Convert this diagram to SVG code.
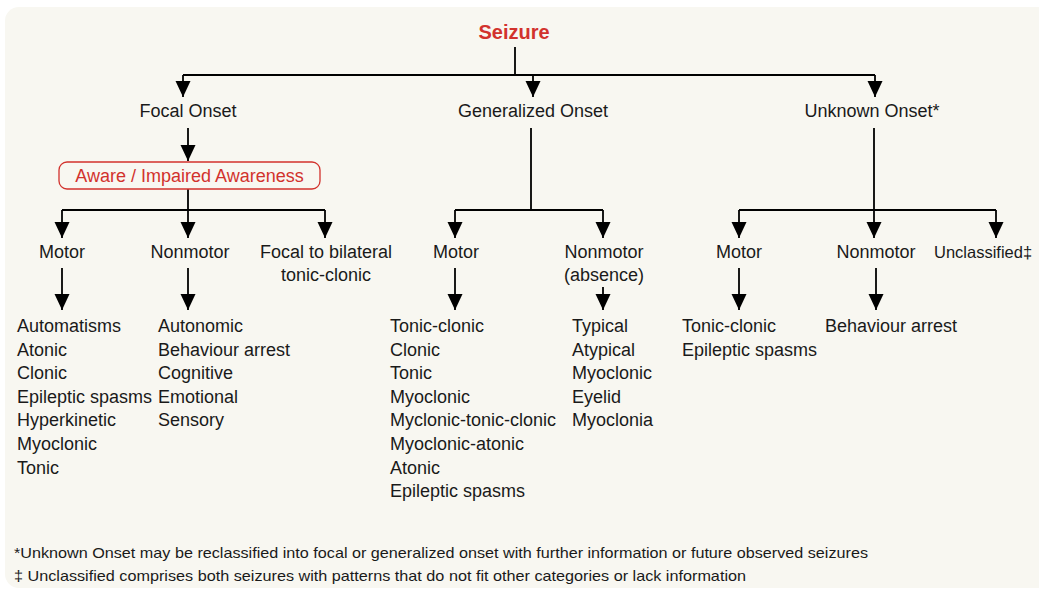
<svg xmlns="http://www.w3.org/2000/svg" width="1039" height="591" viewBox="0 0 1039 591">
<style>
.t{font-family:"Liberation Sans",Arial,sans-serif;font-size:18px;fill:#1a1a1a}
.c{text-anchor:middle}
.red{fill:#d2322d}
.ln{stroke:#000;stroke-width:1.8;fill:none}
.fn{font-family:"Liberation Sans",Arial,sans-serif;font-size:15px;fill:#1a1a1a}
</style>
<defs>
<marker id="ah" markerUnits="userSpaceOnUse" markerWidth="16" markerHeight="17" refX="16" refY="7.5" orient="auto">
<path d="M0,0 L16,7.5 L0,15 z" fill="#000"/>
</marker>
</defs>
<rect x="5" y="7" width="1050" height="581" rx="14" fill="#f8f7f1"/>
<g id="connectors">
<path class="ln" d="M515,47 V75 M183,75 H875"/>
<path class="ln" d="M183,75 V97" marker-end="url(#ah)"/>
<path class="ln" d="M533,75 V97" marker-end="url(#ah)"/>
<path class="ln" d="M875,75 V97" marker-end="url(#ah)"/>
<path class="ln" d="M188,128 V161" marker-end="url(#ah)"/>
<path class="ln" d="M188,189 V210 M62,210 H325"/>
<path class="ln" d="M62,210 V238" marker-end="url(#ah)"/>
<path class="ln" d="M188,210 V238" marker-end="url(#ah)"/>
<path class="ln" d="M325,210 V238" marker-end="url(#ah)"/>
<path class="ln" d="M531,128 V210 M455,210 H603"/>
<path class="ln" d="M455,210 V238" marker-end="url(#ah)"/>
<path class="ln" d="M603,210 V238" marker-end="url(#ah)"/>
<path class="ln" d="M874,128 V210 M739,210 H996"/>
<path class="ln" d="M739,210 V238" marker-end="url(#ah)"/>
<path class="ln" d="M874,210 V238" marker-end="url(#ah)"/>
<path class="ln" d="M996,210 V238" marker-end="url(#ah)"/>
<path class="ln" d="M62,268 V310" marker-end="url(#ah)"/>
<path class="ln" d="M188,268 V310" marker-end="url(#ah)"/>
<path class="ln" d="M455,268 V310" marker-end="url(#ah)"/>
<path class="ln" d="M603,287 V310" marker-end="url(#ah)"/>
<path class="ln" d="M739,268 V310" marker-end="url(#ah)"/>
<path class="ln" d="M876,268 V310" marker-end="url(#ah)"/>
</g>
<g id="seizure"><text class="t c red" x="514" y="39" style="font-weight:bold;font-size:20px">Seizure</text></g>
<g id="focal"><text class="t c" x="188" y="117">Focal Onset</text></g>
<g id="generalized"><text class="t c" x="533" y="117">Generalized Onset</text></g>
<g id="unknown"><text class="t c" x="872" y="117">Unknown Onset*</text></g>
<g id="aware">
<rect x="59" y="162" width="261" height="27" rx="8" fill="none" stroke="#d2322d" stroke-width="1.3"/>
<text class="t c red" x="189.5" y="182">Aware / Impaired Awareness</text>
</g>
<g id="focal-motor"><text class="t c" x="62" y="258">Motor</text></g>
<g id="focal-nonmotor"><text class="t c" x="190" y="258">Nonmotor</text></g>
<g id="focal-bilateral"><text class="t c" x="326" y="258">Focal to bilateral</text><text class="t c" x="326" y="281">tonic-clonic</text></g>
<g id="gen-motor"><text class="t c" x="456" y="258">Motor</text></g>
<g id="gen-nonmotor"><text class="t c" x="604" y="258">Nonmotor</text><text class="t c" x="604" y="281">(absence)</text></g>
<g id="unk-motor"><text class="t c" x="739" y="258">Motor</text></g>
<g id="unk-nonmotor"><text class="t c" x="876" y="258">Nonmotor</text></g>
<g id="unk-unclassified"><text class="t" x="934" y="258" style="font-size:16.5px">Unclassified‡</text></g>
<g id="focal-motor-list">
<text class="t" x="17" y="332">Automatisms</text>
<text class="t" x="17" y="355.6">Atonic</text>
<text class="t" x="17" y="379.2">Clonic</text>
<text class="t" x="17" y="402.8">Epileptic spasms</text>
<text class="t" x="17" y="426.4">Hyperkinetic</text>
<text class="t" x="17" y="450">Myoclonic</text>
<text class="t" x="17" y="473.6">Tonic</text>
</g>
<g id="focal-nonmotor-list">
<text class="t" x="158" y="332">Autonomic</text>
<text class="t" x="158" y="355.6">Behaviour arrest</text>
<text class="t" x="158" y="379.2">Cognitive</text>
<text class="t" x="158" y="402.8">Emotional</text>
<text class="t" x="158" y="426.4">Sensory</text>
</g>
<g id="gen-motor-list">
<text class="t" x="390" y="332">Tonic-clonic</text>
<text class="t" x="390" y="355.6">Clonic</text>
<text class="t" x="390" y="379.2">Tonic</text>
<text class="t" x="390" y="402.8">Myoclonic</text>
<text class="t" x="390" y="426.4">Myclonic-tonic-clonic</text>
<text class="t" x="390" y="450">Myoclonic-atonic</text>
<text class="t" x="390" y="473.6">Atonic</text>
<text class="t" x="390" y="497.2">Epileptic spasms</text>
</g>
<g id="gen-nonmotor-list">
<text class="t" x="572" y="332">Typical</text>
<text class="t" x="572" y="355.6">Atypical</text>
<text class="t" x="572" y="379.2">Myoclonic</text>
<text class="t" x="572" y="402.8">Eyelid</text>
<text class="t" x="572" y="426.4">Myoclonia</text>
</g>
<g id="unk-motor-list">
<text class="t" x="682" y="332">Tonic-clonic</text>
<text class="t" x="682" y="355.6">Epileptic spasms</text>
</g>
<g id="unk-nonmotor-list">
<text class="t" x="825" y="332">Behaviour arrest</text>
</g>
<g id="footnotes">
<text class="fn" x="14" y="558" textLength="854" lengthAdjust="spacingAndGlyphs">*Unknown Onset may be reclassified into focal or generalized onset with further information or future observed seizures</text>
<text class="fn" x="14" y="581" textLength="732" lengthAdjust="spacingAndGlyphs">‡ Unclassified comprises both seizures with patterns that do not fit other categories or lack information</text>
</g>
</svg>
